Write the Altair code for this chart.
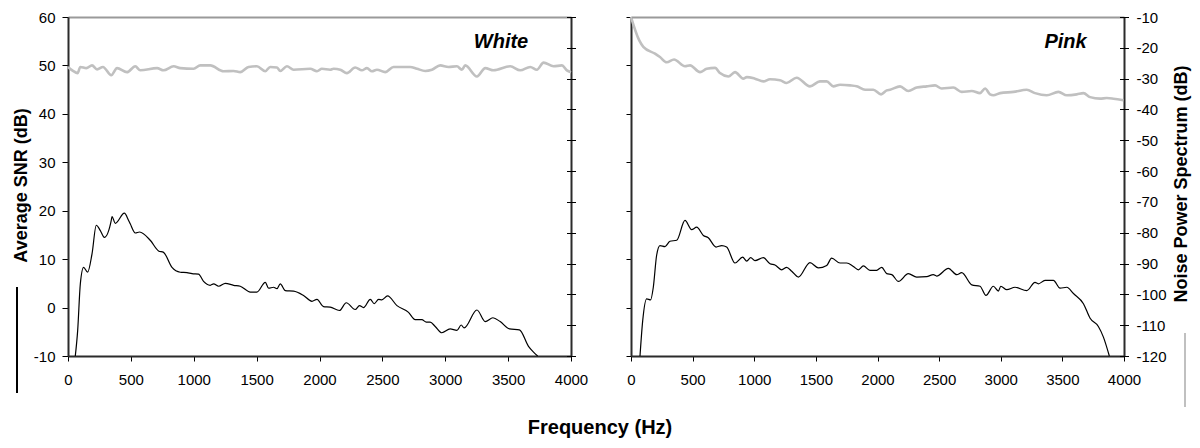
import altair as alt
import pandas as pd

# ---------------- data ----------------
white_snr_f = [58, 77, 98, 124, 156, 191, 225, 257, 289, 344, 350, 376, 448, 482, 495, 535, 569, 654, 720, 760,
               827, 893, 946, 986, 1038, 1078, 1131, 1158, 1198, 1251, 1317, 1370, 1450, 1502, 1569, 1595, 1635,
               1662, 1688, 1728, 1794, 1873, 1940, 1980, 2032, 2085, 2159, 2213, 2284, 2318, 2350, 2404, 2435,
               2470, 2496, 2541, 2616, 2708, 2761, 2814, 2849, 2880, 2920, 2973, 3039, 3093, 3127, 3150, 3252,
               3318, 3379, 3437, 3511, 3590, 3662, 3702, 3735]
white_snr_v = [-10, -4.7, 4.9, 8.3, 7.3, 11.1, 17.0, 15.9, 14.5, 18.0, 18.8, 17.4, 19.5, 18.0, 17.3, 15.4, 15.6,
               13.9, 11.7, 11.4, 8.3, 7.3, 7.2, 7.0, 6.9, 5.4, 4.6, 4.9, 4.4, 5.0, 4.6, 4.4, 3.2, 3.2, 5.2, 4.0,
               4.2, 3.9, 4.9, 3.5, 3.4, 2.5, 1.3, 1.7, 0.2, 0.1, -0.6, 1.0, -0.4, 0.4, 0.0, 1.7, 0.8, 1.7, 1.6,
               2.4, 0.4, -1.0, -2.5, -2.5, -3.0, -3.0, -3.9, -5.2, -4.4, -4.7, -3.6, -4.2, -0.5, -2.9, -2.1,
               -2.9, -4.4, -4.6, -8.0, -9.2, -10]

white_noise_f = [0, 40, 76, 98, 146, 191, 231, 278, 344, 390, 469, 535, 575, 708, 760, 840, 893, 999, 1052, 1131,
                 1237, 1317, 1370, 1436, 1502, 1569, 1608, 1662, 1688, 1741, 1794, 1926, 1980, 2019, 2085, 2112,
                 2165, 2218, 2284, 2337, 2377, 2417, 2457, 2523, 2589, 2721, 2775, 2841, 2894, 2960, 3026, 3093,
                 3132, 3159, 3252, 3318, 3384, 3517, 3596, 3676, 3729, 3782, 3861, 3928, 3967, 4000]
white_noise_v = [-26.2, -27.5, -28.2, -26.2, -26.6, -25.7, -27.0, -26.2, -28.9, -26.6, -27.9, -26.0, -27.3, -26.6,
                 -27.3, -26.0, -26.6, -26.8, -25.7, -25.7, -27.6, -27.5, -27.9, -26.2, -26.0, -27.6, -26.2, -26.4,
                 -27.5, -26.0, -27.1, -26.8, -27.6, -26.8, -27.1, -26.8, -27.1, -28.2, -26.4, -27.3, -26.6, -27.6,
                 -27.1, -27.9, -26.2, -26.2, -26.8, -27.5, -27.1, -25.7, -26.2, -26.0, -27.1, -25.7, -29.3, -26.6,
                 -27.3, -26.0, -27.3, -26.2, -27.1, -24.8, -26.0, -25.7, -27.3, -27.9]

pink_snr_f = [73, 95, 127, 159, 181, 208, 235, 276, 316, 371, 438, 492, 533, 587, 627, 690, 736, 776, 844, 906,
              939, 971, 1006, 1074, 1128, 1168, 1223, 1263, 1304, 1358, 1452, 1520, 1588, 1628, 1696, 1750, 1804,
              1845, 1885, 1939, 1993, 2034, 2075, 2116, 2170, 2250, 2318, 2399, 2453, 2480, 2575, 2643, 2683,
              2765, 2832, 2880, 2940, 2981, 3000, 3049, 3116, 3211, 3278, 3305, 3359, 3427, 3481, 3536, 3590,
              3671, 3725, 3792, 3833, 3881]
pink_snr_v = [-10, -2.7, 1.8, 1.6, 4.2, 10.8, 12.8, 12.6, 13.7, 13.9, 18.0, 16.1, 16.6, 14.9, 14.4, 12.5, 12.8,
              12.5, 9.2, 10.4, 9.6, 10.3, 9.7, 10.3, 9.05, 8.8, 7.8, 8.3, 7.5, 6.3, 9.3, 8.2, 8.7, 10.2, 9.2, 9.2,
              8.5, 7.8, 8.6, 7.7, 7.7, 8.3, 7.0, 6.8, 5.4, 7.0, 6.3, 6.4, 6.8, 6.5, 8.1, 6.8, 7.2, 4.7, 4.4, 2.5,
              4.4, 3.4, 4.4, 3.7, 4.2, 3.5, 5.2, 4.9, 5.6, 5.6, 4.0, 4.2, 2.9, 0.8, -2.2, -3.9, -6.1, -10]

pink_noise_f = [0, 67, 100, 195, 235, 290, 349, 438, 479, 560, 614, 682, 722, 790, 844, 911, 940, 1006, 1074, 1128,
                1209, 1263, 1344, 1452, 1533, 1588, 1642, 1696, 1777, 1831, 1899, 1966, 2029, 2075, 2102, 2183,
                2250, 2318, 2399, 2467, 2521, 2615, 2683, 2765, 2832, 2873, 2913, 2940, 2995, 3103, 3211, 3278,
                3373, 3468, 3536, 3617, 3671, 3725, 3806, 3860, 3914, 3995]
pink_noise_v = [-10, -17.6, -19.7, -21.9, -23.0, -24.7, -23.8, -26.0, -25.7, -27.9, -26.8, -26.5, -28.2, -29.3,
                -27.9, -30.0, -29.5, -30.0, -30.9, -30.2, -30.5, -31.4, -29.7, -32.5, -30.9, -30.9, -32.5, -32.0,
                -32.2, -32.5, -33.6, -33.6, -35.1, -33.8, -33.6, -32.5, -34.0, -32.9, -32.5, -32.2, -33.2, -32.9,
                -34.3, -34.0, -34.7, -33.2, -35.1, -35.4, -34.7, -34.3, -33.6, -34.7, -35.4, -34.3, -35.4, -35.1,
                -34.7, -36.0, -36.5, -36.3, -36.5, -37.0]

freq_ticks = [0, 500, 1000, 1500, 2000, 2500, 3000, 3500, 4000]
snr_ticks = [-10, 0, 10, 20, 30, 40, 50, 60]
noise_ticks = [-120, -110, -100, -90, -80, -70, -60, -50, -40, -30, -20, -10]

panel_labels = ["White", "Pink"]
x_title = ["Frequency (Hz)"]
snr_title = "Average SNR (dB)"
noise_title = "Noise Power Spectrum (dB)"

# ---------------- layout constants (pixels) ----------------
W, H = 1200, 448
Y_TOP, Y_BOT = 17, 356
L_X0, L_X1 = 68, 571
R_X0, R_X1 = 631, 1124
FONT = "Liberation Sans"
DARK = "#2b2b2b"
GRAY_LINE = "#c0c0c0"
GRAY_TOP = "#9a9a9a"

df_ws = pd.DataFrame({"f": white_snr_f, "v": white_snr_v})
df_wn = pd.DataFrame({"f": white_noise_f, "v": white_noise_v})
df_ps = pd.DataFrame({"f": pink_snr_f, "v": pink_snr_v})
df_pn = pd.DataFrame({"f": pink_noise_f, "v": pink_noise_v})


def xscale(x0, x1):
    return alt.Scale(domain=[0, 4000], range=[x0, x1], nice=False, zero=False)


snr_scale = alt.Scale(domain=[-10, 60], range=[Y_BOT, Y_TOP], nice=False, zero=False)
noise_scale = alt.Scale(domain=[-120, -10], range=[Y_BOT, Y_TOP], nice=False, zero=False)

LBL = "'' + datum.value"
TXT = dict(labelFont=FONT, labelFontSize=15, labelColor="black", titleFont=FONT, titleFontSize=18,
           titleFontWeight="bold", titleColor="black", tickColor="black", tickWidth=1, grid=False)

x_bottom_axis = alt.Axis(orient="bottom", offset=Y_BOT - H, values=freq_ticks, tickSize=5, labelPadding=11,
                         domain=True, domainColor=DARK, domainWidth=2, labelFlush=False, labelExpr=LBL,
                         title=None, **TXT)
x_top_axis = alt.Axis(orient="top", offset=-Y_TOP, ticks=False, labels=False, domain=True,
                      domainColor=GRAY_TOP, domainWidth=2, title=None, grid=False)


def panel(df_snr, df_noise, x0, x1, left_labels, right_labels):
    # SNR line (black) with left axis
    extra_l = {"titleX": 21.5 - x0, "titleY": 185, "titleAngle": 270, "titleAlign": "center",
               "titleBaseline": "middle"} if left_labels else {}
    y_left = alt.Axis(orient="left", offset=-x0, values=snr_ticks, tickSize=6 if left_labels else 5,
                      labelPadding=7, labels=left_labels, domain=True, domainColor=DARK, domainWidth=2,
                      labelExpr=LBL, title=snr_title if left_labels else None, **extra_l, **TXT)
    snr = alt.Chart(df_snr).mark_line(color="black", strokeWidth=1.2, interpolate="monotone").encode(
        x=alt.X("f:Q", scale=xscale(x0, x1), axis=x_bottom_axis),
        y=alt.Y("v:Q", scale=snr_scale, axis=y_left),
    )
    # noise line (gray) with right axis (domain + outer half ticks + labels)
    extra_r = {"titleX": 1181.5 - x1, "titleY": 183.5, "titleAngle": 270, "titleAlign": "center",
               "titleBaseline": "middle"} if right_labels else {}
    y_right = alt.Axis(orient="right", offset=x1 - W, values=noise_ticks, tickSize=4.5, labelPadding=7.5,
                       labels=right_labels, domain=True, domainColor=DARK, domainWidth=2, labelExpr=LBL,
                       title=noise_title if right_labels else None, **extra_r, **TXT)
    noise = alt.Chart(df_noise).mark_line(color=GRAY_LINE, strokeWidth=2.6, interpolate="monotone").encode(
        x=alt.X("f:Q", scale=xscale(x0, x1), axis=None),
        y=alt.Y("v:Q", scale=noise_scale, axis=y_right),
    )
    # invisible copy carrying the crossing ticks and the gray top border
    y_cross = alt.Axis(orient="right", offset=x1 - W - 4.5, values=noise_ticks, tickSize=9, labels=False,
                       domain=False, title=None, tickColor="black", tickWidth=1, grid=False)
    noise_ghost = alt.Chart(df_noise).mark_line(opacity=0).encode(
        x=alt.X("f:Q", scale=xscale(x0, x1), axis=x_top_axis),
        y=alt.Y("v:Q", scale=noise_scale, axis=y_cross),
    )
    return [noise, noise_ghost, snr]


layers = panel(df_ws, df_wn, L_X0, L_X1, True, False) + panel(df_ps, df_pn, R_X0, R_X1, False, True)

lab_style = dict(font=FONT, fontSize=20, fontWeight="bold", fontStyle="italic", color="black",
                 align="center", baseline="middle")
white_lbl = alt.Chart(pd.DataFrame({"t": [panel_labels[0]]})).mark_text(**lab_style).encode(
    text="t:N", x=alt.value(501), y=alt.value(41.5))
pink_lbl = alt.Chart(pd.DataFrame({"t": [panel_labels[1]]})).mark_text(**lab_style).encode(
    text="t:N", x=alt.value(1065.5), y=alt.value(41.5))
freq_lbl = alt.Chart(pd.DataFrame({"t": x_title})).mark_text(
    font=FONT, fontSize=20, fontWeight="bold", color="black", align="center", baseline="middle").encode(
    text="t:N", x=alt.value(600), y=alt.value(427.5))

leg_black = alt.Chart(pd.DataFrame({"k": [0]})).mark_rule(color="black", strokeWidth=2).encode(
    x=alt.value(17), y=alt.value(287), y2=alt.value(393))
leg_gray = alt.Chart(pd.DataFrame({"k": [0]})).mark_rule(color=GRAY_LINE, strokeWidth=2).encode(
    x=alt.value(1185), y=alt.value(333), y2=alt.value(407))

chart = alt.layer(*layers, white_lbl, pink_lbl, freq_lbl, leg_black, leg_gray).resolve_scale(
    x="independent", y="independent"
).resolve_axis(x="independent", y="independent").properties(
    width=W, height=H, autosize=alt.AutoSizeParams(type="none"), padding=0, background="white"
).configure_view(stroke=None)

chart.save("out.html", embed_options={"renderer": "svg", "actions": False})
